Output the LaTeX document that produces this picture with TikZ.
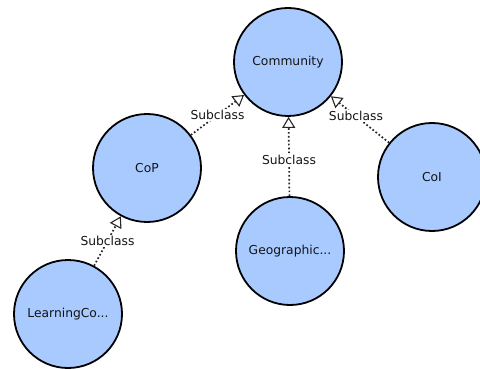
\documentclass[tikz,border=0pt]{standalone}
\usepackage{fontspec}
\setmainfont{DejaVu Sans}
\usetikzlibrary{arrows.meta}
\definecolor{cfill}{RGB}{168,202,255}
\definecolor{ctext}{RGB}{20,20,20}
\begin{document}
\begin{tikzpicture}[x=1pt,y=-1pt,
  cls/.style={circle, draw=black, line width=1.8pt, fill=cfill, minimum size=108pt, inner sep=0pt, font=\fontsize{12.3}{14}\selectfont, text=ctext},
  sub/.style={draw=black!85, line width=1.7pt, dash pattern=on 1.7pt off 2.2pt,
     -{Triangle[open, length=11pt, width=13pt, line width=1.1pt, sep=0pt]}},
  lbl/.style={fill=white, inner sep=1.2pt, font=\fontsize{12.3}{14}\selectfont, text=ctext}]
\useasboundingbox (0,0) rectangle (480,369);
\node[cls] (com) at (288,62) {Community};
\node[cls] (cop) at (147,168) {CoP};
\node[cls] (geo) at (290,251) {Geographic...};
\node[cls] (coi) at (432,177) {CoI};
\node[cls] (lrn) at (68,314) {LearningCo...};
\draw[sub] (cop) -- (com) node[lbl, pos=0.5] {Subclass};
\draw[sub] (geo) -- (com) node[lbl, pos=0.46] {Subclass};
\draw[sub] (coi) -- (com) node[lbl, pos=0.57] {Subclass};
\draw[sub] (lrn) -- (cop) node[lbl, pos=0.5] {Subclass};
\end{tikzpicture}
\end{document}
